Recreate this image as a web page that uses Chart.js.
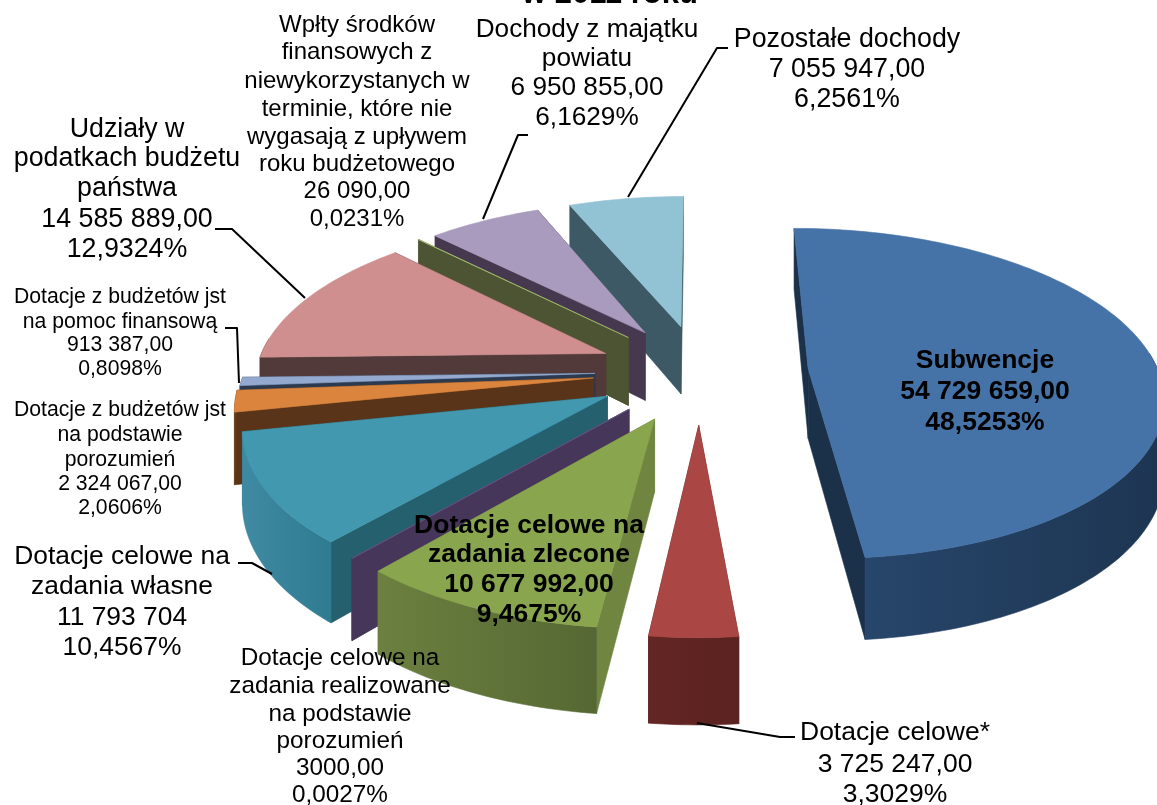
<!DOCTYPE html>
<html lang="pl">
<head>
<meta charset="utf-8">
<style>html,body{margin:0;padding:0;background:#fff;overflow:hidden}#w{position:relative;width:1157px;height:805px}</style>
<script src="https://cdn.jsdelivr.net/npm/chart.js@4/dist/chart.umd.min.js"></script>
</head>
<body>
<div id="w"><canvas id="c" width="1157" height="805"></canvas></div>
<script>
const categories = ['Subwencje','Dotacje celowe*','Dotacje celowe na zadania zlecone','Dotacje celowe na zadania realizowane na podstawie porozumień','Dotacje celowe na zadania własne','Dotacje z budżetów jst na podstawie porozumień','Dotacje z budżetów jst na pomoc finansową','Udziały w podatkach budżetu państwa','Wpłty środków finansowych z niewykorzystanych w terminie, które nie wygasają z upływem roku budżetowego','Dochody z majątku powiatu','Pozostałe dochody'];
const values = [54729659, 3725247, 10677992, 3000, 11793704, 2324067, 913387, 14585889, 26090, 6950855, 7055947];
const explodePct = [31, 32, 31, 30, 30, 30.5, 30, 29.5, 30, 29.3, 29];
const topColors = ['#4572a7','#aa4643','#89a54e','#71588f','#4198af','#db843d','#93a9cf','#cf8f8e','#a9c474','#a99bbd','#92c3d4'];
const rimDark = ['#1d3551','#5a2220','#556833','#46375a','#2f7b90','#5a3418','#2c3a50','#523a3a','#4c5433','#46394f','#3c5965'];
const rimLight = ['#27466b','#642624','#6c8040','#46375a','#3f8aa2','#6d3f1c','#2c3a50','#523a3a','#4c5433','#46394f','#3c5965'];
const wallColors = ['#1b3049','#5a2220','#6f8540','#46375a','#25606f','#5a3418','#2c3a50','#533a3a','#4c5433','#46394f','#3c5965'];
const drawOrder = [10,9,8,7,6,5,4,3,2,1,0];
const titleText = 'w 2011 roku';
const labelBlocks = [
 {lines:['Subwencje','54 729 659,00','48,5253%'],cx:985,ys:[361,392,423],font:'bold 26.5px'},
 {lines:['Dotacje celowe*','3 725 247,00','3,3029%'],cx:895,ys:[733,765,795],font:'26.5px'},
 {lines:['Dotacje celowe na','zadania zlecone','10 677 992,00','9,4675%'],cx:529,ys:[526,555,585,615],font:'bold 26.5px'},
 {lines:['Dotacje celowe na','zadania realizowane','na podstawie','porozumień','3000,00','0,0027%'],cx:340,ys:[658,686,714,741,768,795],font:'24.3px'},
 {lines:['Dotacje celowe na','zadania własne','11 793 704','10,4567%'],cx:122,ys:[557,587,618,648],font:'26.4px'},
 {lines:['Dotacje z budżetów jst','na podstawie','porozumień','2 324 067,00','2,0606%'],cx:120,ys:[410,435,460,484,508],font:'21.2px'},
 {lines:['Dotacje z budżetów jst','na pomoc finansową','913 387,00','0,8098%'],cx:120,ys:[297,322,345,369],font:'21.2px'},
 {lines:['Udziały w','podatkach budżetu','państwa','14 585 889,00','12,9324%'],cx:127,ys:[130,159,189,220,250],font:'26.8px'},
 {lines:['Wpłty środków','finansowych z','niewykorzystanych w','terminie, które nie','wygasają z upływem','roku budżetowego','26 090,00','0,0231%'],cx:357,ys:[25,52,81,109,137,164,191,219],font:'24px'},
 {lines:['Dochody z majątku','powiatu','6 950 855,00','6,1629%'],cx:587,ys:[30,59,88,118],font:'26.2px'},
 {lines:['Pozostałe dochody','7 055 947,00','6,2561%'],cx:847,ys:[40,70,100],font:'26.8px'}
];
const leaderLines = [
 [[215,229],[232,229],[305,298]],
 [[528,135],[518,135],[483,219]],
 [[728,48],[717,48],[628,197]],
 [[225,328],[237,328],[239,383]],
 [[238,563],[252,563],[272,574]],
 [[795,737],[780,737],[697,723]]
];
const view = {x0:700, y0:371, rx:350, ry:162, p:0.15, depth:70};
function proj(u,v){const s=1/(1-view.p*v);return {x:view.x0+view.rx*u*s,y:view.y0+view.ry*v*s,s};}
function low(q){return {x:q.x,y:q.y+view.depth*q.s};}

const pie3d = {
 id:'pie3d',
 beforeDatasetsDraw(chart){
  const ctx=chart.ctx, arcs=chart.getDatasetMeta(0).data;
  const poly=(pts,fill)=>{ctx.beginPath();pts.forEach((q,i)=>i?ctx.lineTo(q.x,q.y):ctx.moveTo(q.x,q.y));ctx.closePath();ctx.fillStyle=fill;ctx.fill();ctx.strokeStyle=fill;ctx.lineWidth=0.6;ctx.stroke();};
  drawOrder.forEach(i=>{
   const a=arcs[i], t0=a.startAngle+Math.PI/2, t1=a.endAngle+Math.PI/2, mid=(t0+t1)/2;
   const e=a.options.offset/100, eu=e*Math.sin(mid), ev=-e*Math.cos(mid);
   const apex=proj(eu,ev);
   const n=Math.max(2,Math.ceil((t1-t0)/0.02));
   const rim=[];
   for(let k=0;k<=n;k++){const t=t0+(t1-t0)*k/n;rim.push({t,q:proj(eu+Math.sin(t),ev-Math.cos(t))});}
   const first=rim[0].q,last=rim[n].q;
   poly([first,apex,low(apex),low(first)],wallColors[i]);
   poly([last,apex,low(apex),low(last)],wallColors[i]);
   const front=rim.filter(r=>-Math.cos(r.t)>-0.1);
   if(front.length>1){
    const xs=front.map(r=>r.q.x),xa=Math.min(...xs),xb=Math.max(...xs);
    const g=ctx.createLinearGradient(xa,0,Math.max(xb,xa+1),0);
    g.addColorStop(0,rimLight[i]);g.addColorStop(1,rimDark[i]);
    const pts=front.map(r=>r.q).concat(front.map(r=>low(r.q)).reverse());
    poly(pts,g);
   }
   poly([apex,...rim.map(r=>r.q)],topColors[i]);
  });
  return false;
 },
 afterDraw(chart){
  const ctx=chart.ctx;
  ctx.save();
  ctx.strokeStyle='#000';ctx.lineWidth=2;ctx.lineJoin='round';
  leaderLines.forEach(l=>{ctx.beginPath();l.forEach((q,i)=>i?ctx.lineTo(q[0],q[1]):ctx.moveTo(q[0],q[1]));ctx.stroke();});
  ctx.fillStyle='#000';ctx.textAlign='center';ctx.textBaseline='middle';
  labelBlocks.forEach(b=>{ctx.font=b.font+' "Liberation Sans", Arial, sans-serif';b.lines.forEach((t,j)=>ctx.fillText(t,b.cx,b.ys[j]));});
  ctx.font='bold 31px "Liberation Sans", Arial, sans-serif';ctx.textBaseline='alphabetic';
  ctx.fillText(titleText,610,3);
  ctx.restore();
 }
};

new Chart(document.getElementById('c'),{
 type:'pie',
 data:{labels:categories,datasets:[{data:values,backgroundColor:topColors,borderWidth:0,offset:explodePct}]},
 options:{responsive:false,animation:false,rotation:0,layout:{padding:0},
  plugins:{legend:{display:false},tooltip:{enabled:false},title:{display:false}}},
 plugins:[pie3d]
});
</script>
</body>
</html>
